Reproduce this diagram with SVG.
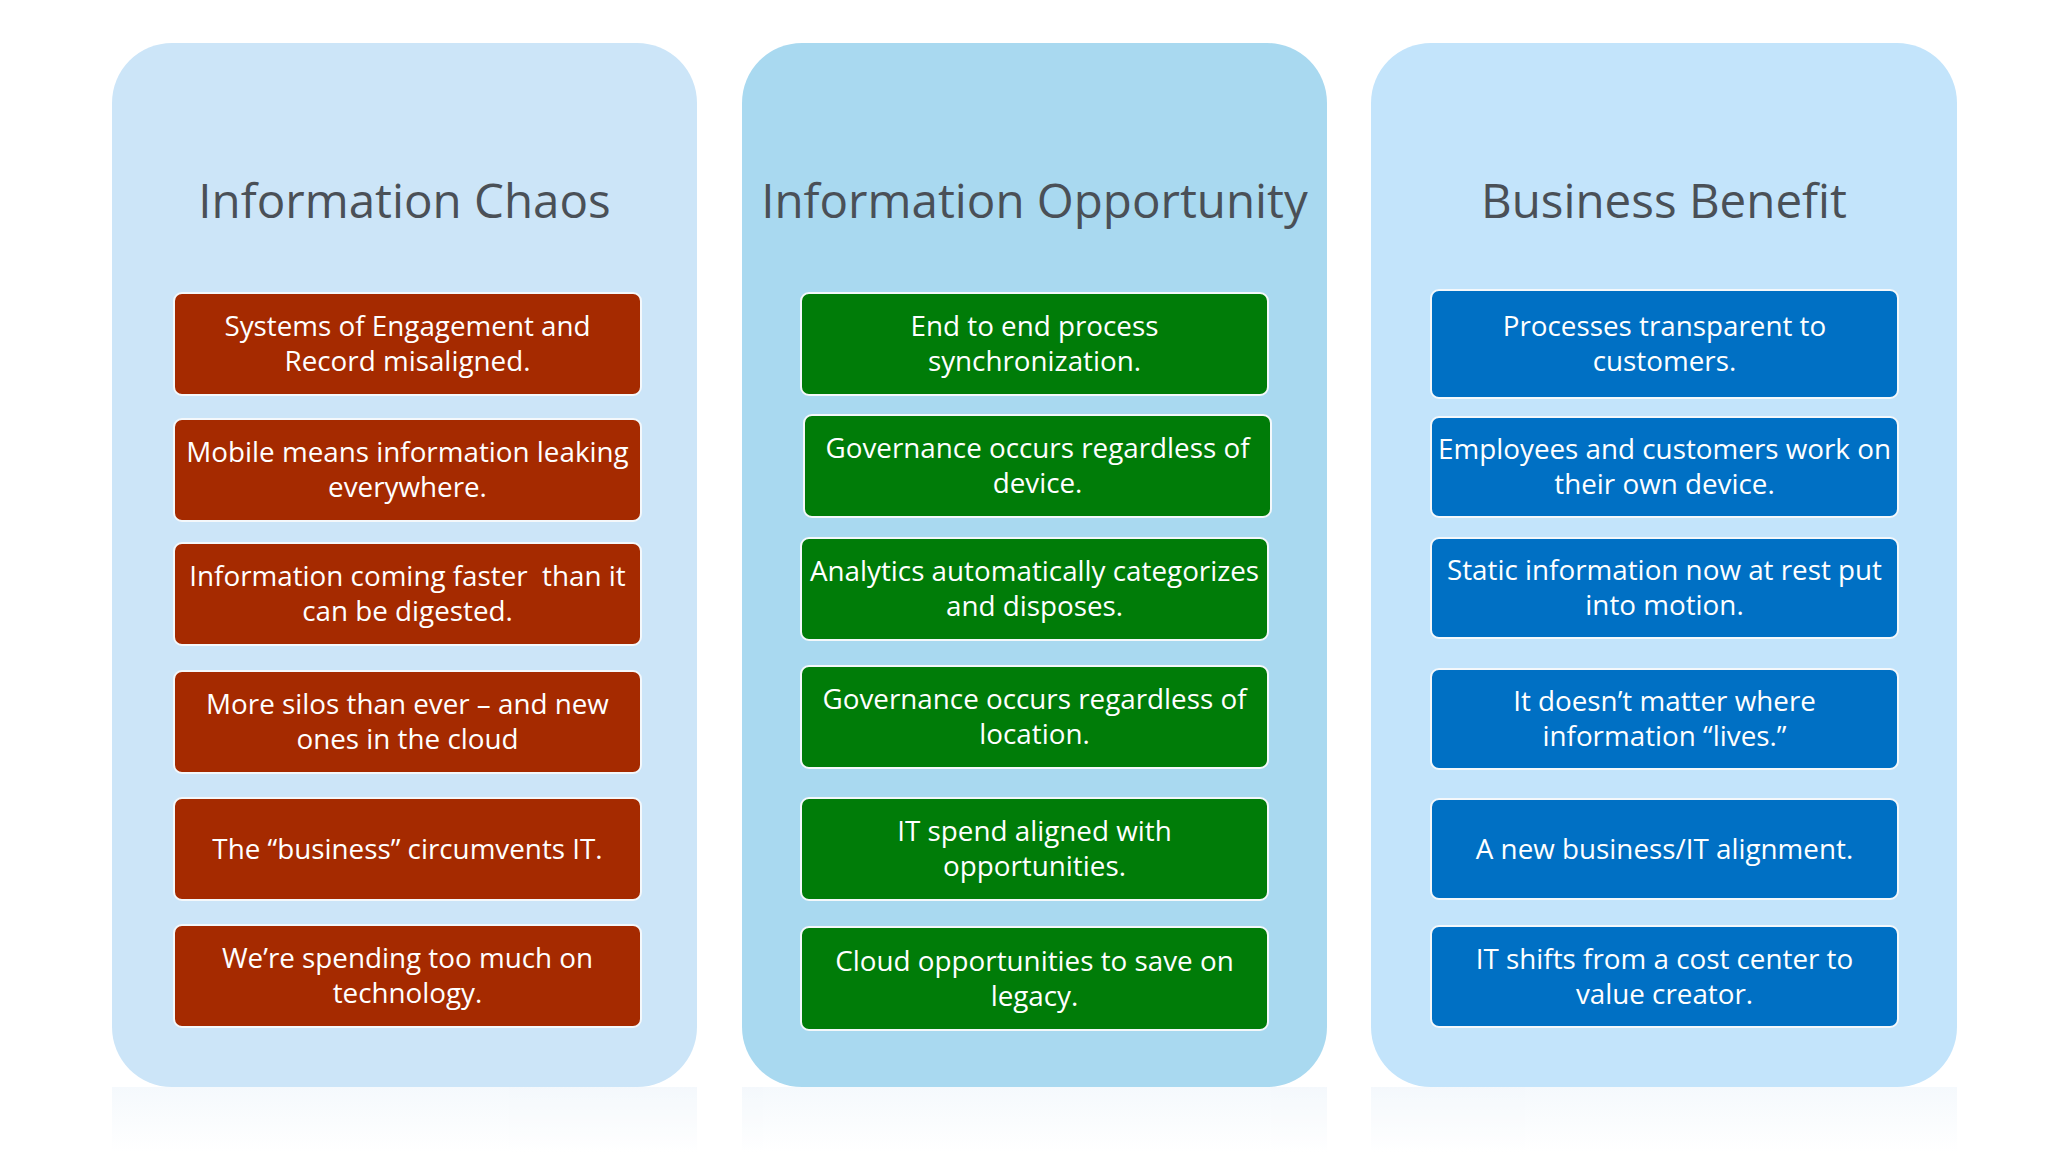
<svg xmlns="http://www.w3.org/2000/svg" width="2048" height="1152" viewBox="0 0 2048 1152">
<style>
.title{font-family:"Open Sans","Noto Sans","Liberation Sans",sans-serif;font-size:47.5px;fill:#4a5057;text-anchor:middle}
.lbl{font-family:"Open Sans","Noto Sans","Liberation Sans",sans-serif;font-size:27.8px;fill:#ffffff;text-anchor:middle;white-space:pre}
.box{stroke:#f4f8fb;stroke-width:2}
.red{fill:#a52a00}
.green{fill:#007c08}
.blue{fill:#0070c4}
</style>
<defs>
<linearGradient id="refl" x1="0" y1="0" x2="0" y2="1">
<stop offset="0" stop-color="#eef5fb"/>
<stop offset="1" stop-color="#ffffff"/>
</linearGradient>
</defs>
<rect width="2048" height="1152" fill="#ffffff"/>
<g id="reflection" opacity="0.6">
<rect x="112" y="1087" width="585" height="65" fill="url(#refl)"/>
<rect x="742" y="1087" width="585" height="65" fill="url(#refl)"/>
<rect x="1371" y="1087" width="586" height="65" fill="url(#refl)"/>
</g>
<g id="panel-chaos">
<rect x="112" y="43" width="585" height="1044" rx="60" fill="#cce5f8"/>
<text class="title" x="404.5" y="218">Information Chaos</text>
</g>
<g id="panel-opportunity">
<rect x="742" y="43" width="585" height="1044" rx="60" fill="#a9d9f0"/>
<text class="title" x="1034.5" y="218">Information Opportunity</text>
</g>
<g id="panel-benefit">
<rect x="1371" y="43" width="586" height="1044" rx="60" fill="#c3e4fb"/>
<text class="title" x="1664" y="218">Business Benefit</text>
</g>
<g id="c1">
<rect class="box red" x="174" y="293" width="467" height="102" rx="8"/>
<text class="lbl" x="407.5" y="336">Systems of Engagement and</text>
<text class="lbl" x="407.5" y="371">Record misaligned.</text>
</g>
<g id="c2">
<rect class="box red" x="174" y="419" width="467" height="102" rx="8"/>
<text class="lbl" x="407.5" y="462">Mobile means information leaking</text>
<text class="lbl" x="407.5" y="497">everywhere.</text>
</g>
<g id="c3">
<rect class="box red" x="174" y="543" width="467" height="102" rx="8"/>
<text class="lbl" x="407.5" y="586">Information coming faster  than it</text>
<text class="lbl" x="407.5" y="621">can be digested.</text>
</g>
<g id="c4">
<rect class="box red" x="174" y="671" width="467" height="102" rx="8"/>
<text class="lbl" x="407.5" y="714">More silos than ever – and new</text>
<text class="lbl" x="407.5" y="749">ones in the cloud</text>
</g>
<g id="c5">
<rect class="box red" x="174" y="798" width="467" height="102" rx="8"/>
<text class="lbl" x="407.5" y="859">The “business” circumvents IT.</text>
</g>
<g id="c6">
<rect class="box red" x="174" y="925" width="467" height="102" rx="8"/>
<text class="lbl" x="407.5" y="968">We’re spending too much on</text>
<text class="lbl" x="407.5" y="1003">technology.</text>
</g>
<g id="o1">
<rect class="box green" x="801" y="293" width="467" height="102" rx="8"/>
<text class="lbl" x="1034.5" y="336">End to end process</text>
<text class="lbl" x="1034.5" y="371">synchronization.</text>
</g>
<g id="o2">
<rect class="box green" x="804" y="415" width="467" height="102" rx="8"/>
<text class="lbl" x="1037.5" y="458">Governance occurs regardless of</text>
<text class="lbl" x="1037.5" y="493">device.</text>
</g>
<g id="o3">
<rect class="box green" x="801" y="538" width="467" height="102" rx="8"/>
<text class="lbl" x="1034.5" y="581">Analytics automatically categorizes</text>
<text class="lbl" x="1034.5" y="616">and disposes.</text>
</g>
<g id="o4">
<rect class="box green" x="801" y="666" width="467" height="102" rx="8"/>
<text class="lbl" x="1034.5" y="709">Governance occurs regardless of</text>
<text class="lbl" x="1034.5" y="744">location.</text>
</g>
<g id="o5">
<rect class="box green" x="801" y="798" width="467" height="102" rx="8"/>
<text class="lbl" x="1034.5" y="841">IT spend aligned with</text>
<text class="lbl" x="1034.5" y="876">opportunities.</text>
</g>
<g id="o6">
<rect class="box green" x="801" y="927" width="467" height="103" rx="8"/>
<text class="lbl" x="1034.5" y="971">Cloud opportunities to save on</text>
<text class="lbl" x="1034.5" y="1006">legacy.</text>
</g>
<g id="b1">
<rect class="box blue" x="1431" y="290" width="467" height="108" rx="8"/>
<text class="lbl" x="1664.5" y="336">Processes transparent to</text>
<text class="lbl" x="1664.5" y="371">customers.</text>
</g>
<g id="b2">
<rect class="box blue" x="1431" y="417" width="467" height="100" rx="8"/>
<text class="lbl" x="1664.5" y="459">Employees and customers work on</text>
<text class="lbl" x="1664.5" y="494">their own device.</text>
</g>
<g id="b3">
<rect class="box blue" x="1431" y="538" width="467" height="100" rx="8"/>
<text class="lbl" x="1664.5" y="580">Static information now at rest put</text>
<text class="lbl" x="1664.5" y="615">into motion.</text>
</g>
<g id="b4">
<rect class="box blue" x="1431" y="669" width="467" height="100" rx="8"/>
<text class="lbl" x="1664.5" y="711">It doesn’t matter where</text>
<text class="lbl" x="1664.5" y="746">information “lives.”</text>
</g>
<g id="b5">
<rect class="box blue" x="1431" y="799" width="467" height="100" rx="8"/>
<text class="lbl" x="1664.5" y="859">A new business/IT alignment.</text>
</g>
<g id="b6">
<rect class="box blue" x="1431" y="926" width="467" height="101" rx="8"/>
<text class="lbl" x="1664.5" y="969">IT shifts from a cost center to</text>
<text class="lbl" x="1664.5" y="1004">value creator.</text>
</g>
<g id="connectors"/>
</svg>
